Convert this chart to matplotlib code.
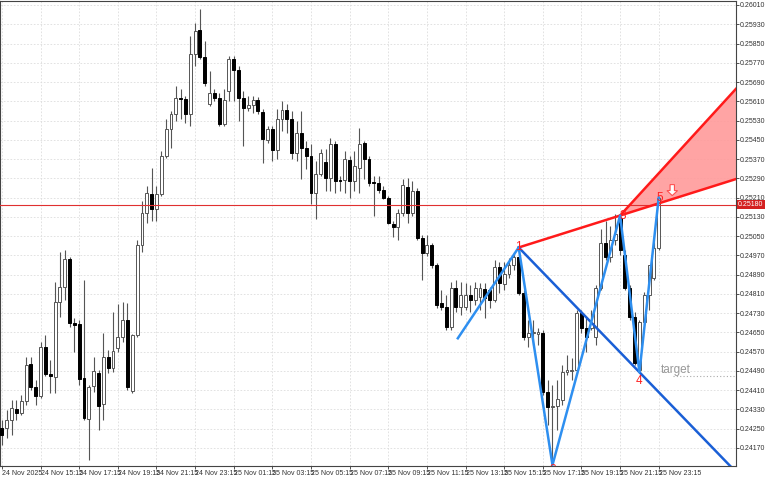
import matplotlib.pyplot as plt
import numpy as np
from matplotlib.patches import FancyArrow

# M15 candles (screen rows, top = 0), converted to prices below
opens_px = [428, 428, 420, 409, 413, 401, 364, 387, 396, 347, 374, 377, 302, 287, 259, 323, 324, 378, 419, 386,
            373, 404, 357, 368, 348, 337, 320, 391, 335, 245, 212, 193, 208, 193, 155, 128, 113, 97, 98, 113,
            53, 29, 56, 103, 92, 97, 123, 90, 58, 69, 97, 107, 104, 99, 111, 139, 128, 149, 118, 109,
            118, 152, 132, 147, 155, 192, 173, 161, 177, 143, 179, 179, 159, 180, 167, 142, 158, 181, 182, 189,
            197, 223, 226, 212, 186, 212, 190, 238, 253, 245, 265, 303, 307, 327, 288, 307, 307, 295, 300, 297,
            289, 290, 300, 267, 284, 274, 265, 257, 293, 337, 333, 334, 333, 392, 407, 406, 400, 372, 371, 370,
            313, 328, 328, 337, 288, 243, 257, 240, 217, 255, 288, 317, 370, 322, 295, 278, 248]
closes_px = [435, 420, 408, 413, 401, 365, 387, 396, 347, 374, 376, 302, 287, 259, 323, 325, 379, 418, 387, 371,
             406, 357, 368, 351, 337, 320, 387, 335, 245, 212, 192, 208, 193, 155, 128, 113, 97, 98, 113, 53,
             30, 56, 82, 92, 97, 123, 99, 58, 69, 97, 107, 104, 99, 110, 138, 128, 149, 118, 109, 118,
             152, 132, 147, 155, 192, 173, 152, 177, 143, 180, 180, 158, 180, 165, 143, 158, 182, 182, 189, 197,
             222, 226, 212, 184, 212, 190, 238, 253, 245, 265, 305, 307, 327, 288, 307, 295, 295, 300, 288, 288,
             298, 300, 267, 283, 274, 265, 257, 293, 337, 333, 333, 332, 392, 407, 406, 399, 372, 370, 370, 313,
             328, 337, 323, 288, 243, 257, 240, 233, 250, 288, 317, 363, 322, 295, 265, 248, 197]
highs_px = [420, 410, 400, 400, 395, 357, 357, 380, 342, 335, 360, 282, 252, 250, 257, 318, 320, 280, 385, 357,
            370, 333, 350, 312, 304, 302, 303, 334, 240, 200, 185, 167, 185, 150, 118, 110, 85, 88, 95, 35,
            22, 8, 40, 70, 88, 92, 88, 55, 55, 65, 90, 95, 95, 96, 108, 125, 125, 108, 100, 103,
            110, 120, 110, 140, 143, 160, 148, 148, 137, 140, 175, 150, 155, 150, 127, 140, 155, 175, 175, 185,
            195, 220, 208, 178, 177, 180, 187, 235, 235, 243, 263, 290, 295, 282, 280, 282, 283, 285, 282, 283,
            283, 287, 260, 262, 262, 258, 252, 247, 290, 320, 320, 328, 330, 380, 385, 380, 365, 355, 358, 310,
            310, 318, 310, 285, 228, 220, 225, 213, 215, 250, 285, 312, 320, 292, 265, 242, 196]
lows_px = [445, 438, 435, 420, 415, 405, 390, 405, 398, 376, 393, 393, 317, 300, 327, 352, 385, 420, 460, 392,
           430, 420, 373, 372, 352, 342, 390, 393, 337, 252, 222, 220, 220, 195, 157, 147, 120, 118, 122, 125,
           65, 58, 85, 105, 100, 125, 125, 100, 100, 120, 145, 110, 112, 113, 162, 142, 160, 158, 130, 132,
           158, 160, 178, 168, 203, 218, 175, 190, 190, 192, 190, 192, 197, 190, 192, 178, 185, 215, 192, 198,
           223, 237, 240, 215, 222, 215, 240, 280, 256, 268, 308, 310, 330, 330, 312, 315, 310, 312, 305, 310,
           318, 308, 302, 293, 290, 278, 270, 295, 340, 347, 345, 345, 395, 425, 465, 430, 405, 375, 380, 372,
           333, 352, 330, 345, 290, 260, 262, 245, 255, 290, 320, 365, 372, 325, 310, 280, 250]

# wave points: (candle index, screen row)
wave_idx = [94.4, 107, 114, 128, 132, 136]
wave_px = [338, 247, 465, 215, 372, 197]

time_labels = ["24 Nov 2025", "24 Nov 15:15", "24 Nov 17:15", "24 Nov 19:15", "24 Nov 21:15", "24 Nov 23:15",
               "25 Nov 01:15", "25 Nov 03:15", "25 Nov 05:15", "25 Nov 07:15", "25 Nov 09:15", "25 Nov 11:15",
               "25 Nov 13:15", "25 Nov 15:15", "25 Nov 17:15", "25 Nov 19:15", "25 Nov 21:15", "25 Nov 23:15"]
price_ticks = [0.26010 - 0.0008 * k for k in range(24)]
bid = 0.25180
target = 0.24470

PX = 0.0008 / 19.3


def to_price(rows):
    return 0.26010 - (np.asarray(rows, dtype=float) - 4) * PX


o = to_price(opens_px)
c = to_price(closes_px)
h = to_price(highs_px)
l = to_price(lows_px)
wy = to_price(wave_px)
idx = np.arange(len(o))

plt.rcParams["font.family"] = ["Liberation Sans", "DejaVu Sans"]

fig = plt.figure(figsize=(7.68, 4.80), dpi=100)
ax = fig.add_axes([0.0, 14 / 480, 736 / 768, 465 / 480])
x_right = 152.0
ax.set_xlim(-0.4, x_right)
ax.set_ylim(to_price(466), to_price(0))

for i in idx:
    ax.vlines(i, l[i], h[i], color="#555555", lw=0.8, zorder=2)
    bull = c[i] >= o[i]
    lo, hi = min(o[i], c[i]), max(o[i], c[i])
    hgt = max(hi - lo, PX * 0.8)
    ax.add_patch(plt.Rectangle((i - 0.3, lo), 0.6, hgt, facecolor="white" if bull else "black",
                               edgecolor="#555555" if bull else "black", lw=0.7, zorder=3))


def line_at(xa, ya, xb, yb, x):
    return ya + (yb - ya) * (x - xa) / (xb - xa)


x1, y1 = wave_idx[1], wy[1]
x3, y3 = wave_idx[3], wy[3]
x4, y4 = wave_idx[4], wy[4]
low_end = line_at(x1, y1, x3, y3, x_right)
up_end = to_price(88)
ax.fill([x3, x_right, x_right], [y3, up_end, low_end], color="#ff9a9a", alpha=0.9, lw=0, zorder=1)
ax.plot([x1, x_right], [y1, low_end], color="#ff1a1a", lw=1.8, zorder=5)
ax.plot([x3, x_right], [y3, up_end], color="#ff1a1a", lw=1.8, zorder=5)
ax.plot([x1, x_right], [y1, line_at(x1, y1, x4, y4, x_right)], color="#1a5fd6", lw=1.8, zorder=5)
ax.plot(wave_idx, wy, color="#2e8ff0", lw=1.8, zorder=6)

ax.axhline(bid, color="#e03030", lw=0.8, zorder=4)
ax.plot([139, x_right], [target, target], color="#aaaaaa", lw=0.8, ls=(0, (1, 2)), zorder=4)
ax.text(136.5, target, "target", color="#999999", fontsize=8.5, va="bottom", zorder=7)

labels = ["1", "2", "3", "4", "5"]
offs = [(0, 0), (0, -5), (0.5, 0), (0, -9), (0.3, 0)]
for k, lab in enumerate(labels):
    xi, yi = wave_idx[k + 1], wy[k + 1]
    t = ax.text(xi + offs[k][0], yi + offs[k][1] * PX, lab, color="#ff2020", fontsize=8.5, ha="center",
                va="center", zorder=8)
    t.set_clip_on(True)
ax.add_patch(FancyArrow(138.8, wy[5] + 13 * PX, 0, -11 * PX, width=0.9, head_width=2.2,
                        head_length=5 * PX, length_includes_head=True, fc="white", ec="#ff5050",
                        lw=0.8, zorder=8))

ax.yaxis.tick_right()
ax.set_yticks(price_ticks)
ax.set_yticklabels([f"{p:.5f}" for p in price_ticks])
ax.set_xticks(np.arange(len(time_labels)) * 8)
ax.set_xticklabels(time_labels, ha="left")
ax.tick_params(axis="both", labelsize=5, length=2, width=0.6, colors="#333333", pad=1)
ax.grid(True, color="#dddddd", ls=(0, (2, 2)), lw=0.6)
ax.set_axisbelow(True)
for s in ax.spines.values():
    s.set_color("#444444")
    s.set_linewidth(0.8)

ax.text(1.003, bid, f"{bid:.5f}", transform=ax.get_yaxis_transform(), fontsize=5, color="white",
        va="center", ha="left", bbox=dict(boxstyle="square,pad=0.15", fc="#d42020", ec="none"))

fig.savefig("out.png", dpi=100, facecolor="white")
